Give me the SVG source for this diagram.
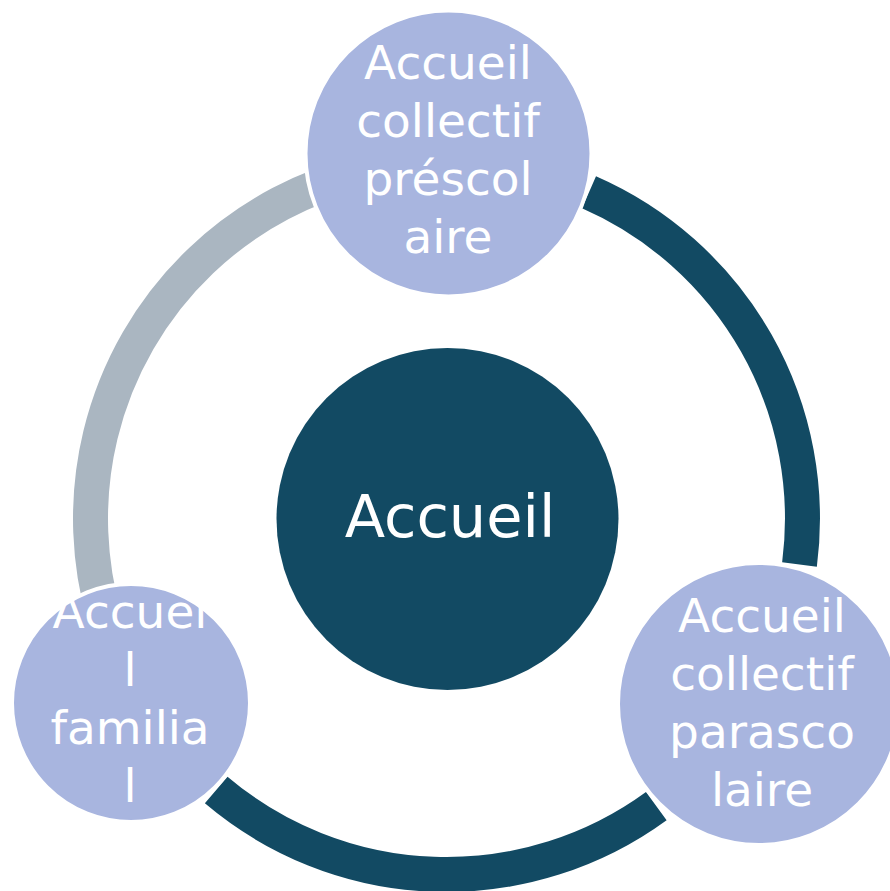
<svg xmlns="http://www.w3.org/2000/svg" width="890" height="891" viewBox="0 0 890 891">
  <style>
    .arc { fill: none; stroke-width: 35; stroke-linecap: butt; }
    .dark { stroke: #124A63; }
    .gray { stroke: #AAB6C1; }
    .node { fill: #A8B5DF; stroke: #FFFFFF; stroke-width: 4; }
    .lbl { font-family: "DejaVu Sans", "Liberation Sans", sans-serif; font-size: 47px; fill: #FFFFFF; text-anchor: middle; }
    .center { font-family: "DejaVu Sans", "Liberation Sans", sans-serif; font-size: 59px; fill: #FFFFFF; text-anchor: middle; }
  </style>
  <rect width="890" height="891" fill="#FFFFFF"/>
  <g id="connectors">
    <path class="arc gray" d="M138.2,696.5 A356,356 0 0 1 446.5,162.5"/>
    <path class="arc dark" d="M589.0,192.3 A356,356 0 0 1 799.5,564.4"/>
    <path class="arc dark" d="M656.3,806.1 A356,356 0 0 1 216.2,790.0"/>
  </g>
  <g id="center">
    <circle cx="447.5" cy="519" r="171" fill="#124A63"/>
    <text class="center" x="450" y="537">Accueil</text>
  </g>
  <g id="node-prescolaire">
    <circle class="node" cx="448.5" cy="153.5" r="143"/>
    <text class="lbl" x="448" y="79">Accueil</text>
    <text class="lbl" x="448" y="137">collectif</text>
    <text class="lbl" x="448" y="195">préscol</text>
    <text class="lbl" x="448" y="253">aire</text>
  </g>
  <g id="node-parascolaire">
    <circle class="node" cx="759" cy="704" r="141"/>
    <text class="lbl" x="762" y="632">Accueil</text>
    <text class="lbl" x="762" y="690">collectif</text>
    <text class="lbl" x="762" y="748">parasco</text>
    <text class="lbl" x="762" y="806">laire</text>
  </g>
  <g id="node-familial">
    <circle class="node" cx="131" cy="703" r="119"/>
    <text class="lbl" x="130" y="628">Accuei</text>
    <text class="lbl" x="130" y="686">l</text>
    <text class="lbl" x="130" y="744">familia</text>
    <text class="lbl" x="130" y="802">l</text>
  </g>
</svg>
